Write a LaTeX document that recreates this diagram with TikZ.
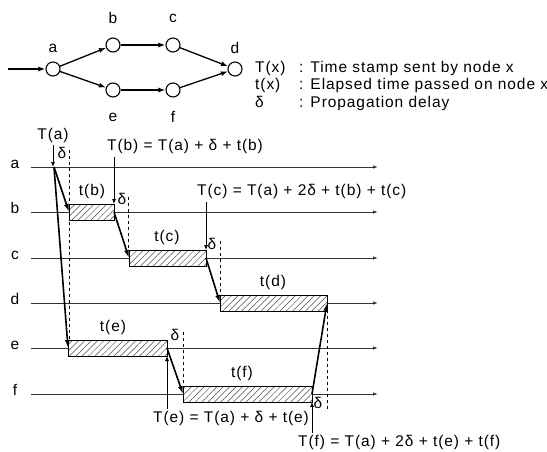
\documentclass[tikz,border=0pt]{standalone}
\usepackage{fontspec}
\setmainfont{Liberation Sans}[LetterSpace=6]
\usetikzlibrary{arrows.meta,calc,patterns.meta}

\begin{document}
\begin{tikzpicture}[x=1pt,y=-1pt,
  txt/.style={inner sep=0pt,font=\fontsize{15.5}{18}\selectfont},
  station/.style={circle,draw,line width=1.1pt,minimum size=14pt,inner sep=0pt},
  hop/.style={-{Latex[length=7pt,width=5pt]},line width=1.3pt},
  timeline/.style={-{Latex[length=5pt,width=3.5pt]},line width=0.9pt,black!80},
  stamp/.style={-{Latex[length=5pt,width=4pt]},line width=0.8pt},
  send/.style={-{Latex[length=8pt,width=5pt]},line width=1.6pt},
  delay/.style={dash pattern=on 3pt off 3pt,line width=0.8pt},
  busy/.style={draw,line width=0.8pt,pattern={Lines[angle=45,distance=4.5pt,line width=0.5pt]},pattern color=black!70}]
  \useasboundingbox (0,0) rectangle (547,451);
  % network
  \coordinate (src) at (8,69);
  \node[station] (na) at (53,69) {};
  \node[station] (nb) at (113,45) {};
  \node[station] (nc) at (173,45) {};
  \node[station] (nd) at (235,69) {};
  \node[station] (ne) at (113,90) {};
  \node[station] (nf) at (173,90) {};
  \node[txt,anchor=base] at (53,52) {a};
  \node[txt,anchor=base] at (113,23) {b};
  \node[txt,anchor=base] at (173,22) {c};
  \node[txt,anchor=base] at (235,53) {d};
  \node[txt,anchor=base] at (113,121) {e};
  \node[txt,anchor=base] at (173,122) {f};
  \draw[hop] (src) -- (na);
  \draw[hop] (na) -- (nb);
  \draw[hop] (na) -- (ne);
  \draw[hop] (nb) -- (nc);
  \draw[hop] (ne) -- (nf);
  \draw[hop] (nc) -- (nd);
  \draw[hop] (nf) -- (nd);
  % legend
  \node[txt,anchor=base west] (kT) at (255,72) {T(x)};
  \node[txt,anchor=base west] (kTd) at (299,72) {: Time stamp sent by node x};
  \node[txt,anchor=base west] (kt) at (255,89) {t(x)};
  \node[txt,anchor=base west] (ktd) at (299,89) {: Elapsed time passed on node x};
  \node[txt,anchor=base west] (kd) at (255,107) {δ};
  \node[txt,anchor=base west] (kdd) at (299,107) {: Propagation delay};
  % time lines
  \foreach \r/\y in {a/167,b/212,c/258,d/303,e/348,f/394}{
    \node[txt,anchor=base] (row\r) at (15,\y+1) {\r};
    \coordinate (\r0) at (31,\y);
    \coordinate (\r1) at (378,\y);
    \draw[timeline] (\r0) -- (\r1);
  }
  % delay marks
  \coordinate (wa) at (69,150);
  \coordinate (wb) at (128,197);
  \coordinate (wc) at (220,241);
  \coordinate (we) at (183,332);
  \coordinate (wf) at (327,409);
  \draw[delay] (wa) -- (wa |- 0,340);
  \draw[delay] (wb) -- (wb |- 0,250);
  \draw[delay] (wc) -- (wc |- 0,295);
  \draw[delay] (we) -- (we |- 0,386);
  \draw[delay] (wf) -- (wf |- 0,311);
  % busy intervals
  \foreach \n/\x/\X/\y/\l in {b/69/114/212/92,c/129/206/258/167,d/220/327/303/273,e/68/167/348/113,f/183/312/394/242}{
    \fill[white] (\x,\y-8) rectangle (\X,\y+8);
    \draw[busy] (\x,\y-8) rectangle (\X,\y+8);
    \coordinate (in\n) at (\x,\y);
    \coordinate (out\n) at (\X,\y);
    \coordinate (top\n) at (\X,\y-8);
    \coordinate (bot\n) at (\X,\y+8);
    \node[txt,anchor=base] (lab\n) at (\l,\y-17) {t(\n)};
  }
  % messages
  \coordinate (ta) at (54,167);
  \draw[send] (ta) -- (inb);
  \draw[send] (ta) -- (ine);
  \draw[send] (outb) -- (inc);
  \draw[send] (outc) -- (ind);
  \draw[send] (oute) -- (inf);
  \draw[send] (outf) -- (outd);
  % time stamps
  \node[txt] (Ta) at (53,135) {T(a)};
  \coordinate (sa) at (53,167);
  \draw[stamp] ($(Ta.south)+(0,3)$) -- (sa);
  \node[txt,anchor=base west] (Tb) at (107,150) {T(b) = T(a) + δ + t(b)};
  \draw[stamp] ($(topb |- Tb.south)+(0,4)$) -- (topb);
  \node[txt,anchor=base west] (Tc) at (197,195) {T(c) = T(a) + 2δ + t(b) + t(c)};
  \draw[stamp] ($(topc |- Tc.south)+(0,4)$) -- (topc);
  \node[txt,anchor=base west] (Te) at (153,422) {T(e) = T(a) + δ + t(e)};
  \draw[stamp] ($(bote |- Te.north)+(0,-2)$) -- (bote);
  \node[txt,anchor=base west] (Tf) at (298,446) {T(f) = T(a) + 2δ + t(e) + t(f)};
  \draw[stamp] ($(botf |- Tf.north)+(0,-2)$) -- (botf);
  % delta labels
  \node[txt,anchor=base] (da) at (62,158) {δ};
  \node[txt,anchor=base] (db) at (122,204) {δ};
  \node[txt,anchor=base] (dc) at (212,249) {δ};
  \node[txt,anchor=base] (de) at (175,340) {δ};
  \node[txt,anchor=base] (df) at (318,408) {δ};
\end{tikzpicture}
\end{document}
